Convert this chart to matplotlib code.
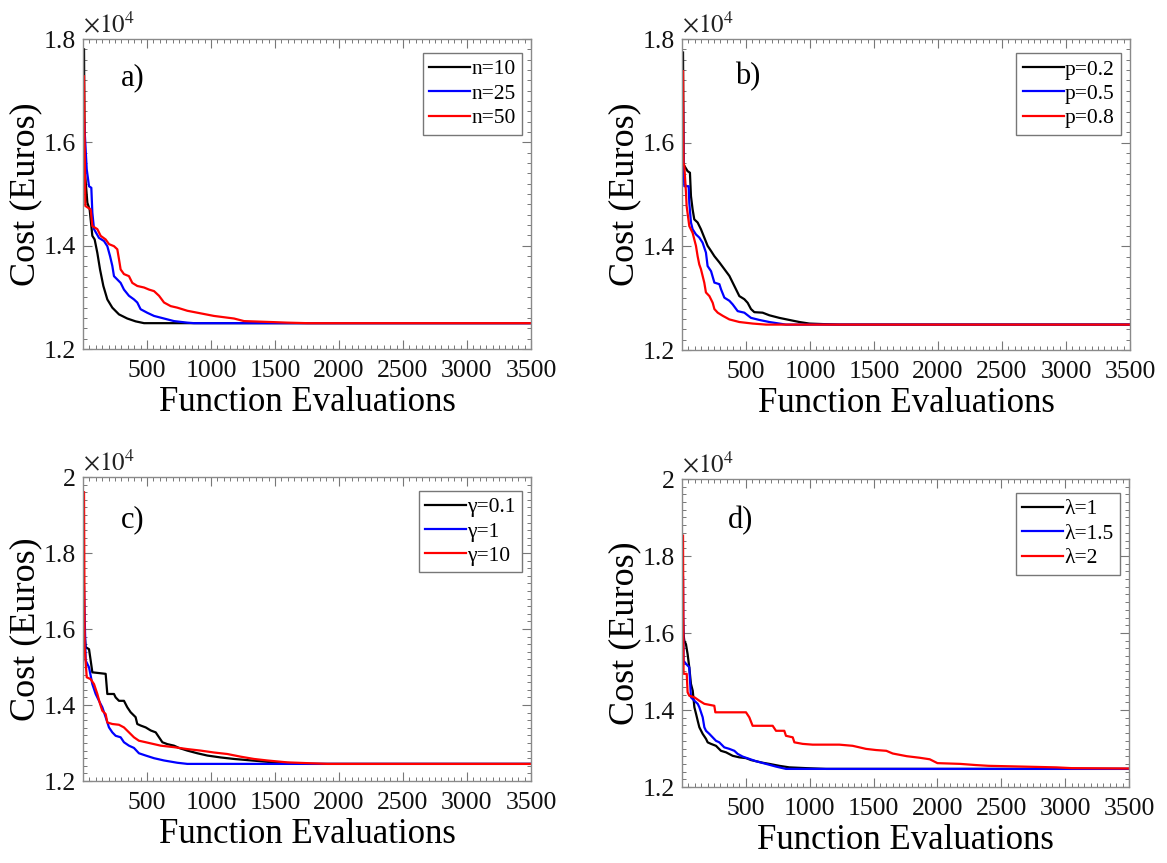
import matplotlib
matplotlib.use("Agg")
import matplotlib.pyplot as plt
from matplotlib.ticker import MultipleLocator, FuncFormatter

plt.rcParams['font.family'] = ['Liberation Serif', 'DejaVu Serif']
plt.rcParams['mathtext.fontset'] = 'stix'

# ---------------- data (Function evaluations, Cost in Euros) ----------------
# Panel a) population size n
a_x_n10 = [8, 13, 34, 52, 73, 91, 112, 133, 159, 190, 229, 281, 346, 411, 477, 3500]
a_y_n10 = [17800, 15480, 14830, 14700, 14190, 14120, 13860, 13540, 13220, 12960, 12800, 12670, 12590, 12535, 12500, 12500]
a_x_n25 = [8, 29, 47, 65, 73, 86, 125, 164, 190, 211, 229, 242, 294, 320, 359, 398, 424, 450, 503, 555, 633, 711, 815, 867, 3500]
a_y_n25 = [16450, 15480, 15150, 15120, 14640, 14320, 14150, 14090, 13990, 13800, 13610, 13410, 13280, 13150, 13030, 12960, 12900, 12770, 12700, 12640, 12590, 12540, 12510, 12500, 12500]
a_x_n50 = [8, 18, 60, 73, 112, 138, 177, 203, 242, 268, 281, 294, 320, 359, 385, 424, 477, 516, 555, 594, 633, 685, 737, 815, 919, 1023, 1180, 1258, 1492, 1596, 1753, 3500]
a_y_n50 = [17280, 14770, 14700, 14380, 14320, 14190, 14120, 14030, 13990, 13930, 13740, 13540, 13450, 13410, 13280, 13220, 13190, 13150, 13120, 13030, 12900, 12830, 12800, 12740, 12690, 12640, 12590, 12540, 12520, 12510, 12500, 12500]
a_labels = ['n=10', 'n=25', 'n=50']

# Panel b) switch probability p
b_x_p02 = [8, 12, 44, 62, 70, 83, 96, 122, 148, 174, 200, 227, 253, 292, 331, 370, 396, 422, 448, 487, 513, 539, 565, 630, 682, 760, 838, 917, 995, 1099, 1229, 3500]
b_y_p02 = [17740, 15580, 15450, 15420, 14970, 14710, 14520, 14460, 14330, 14170, 14010, 13910, 13810, 13690, 13560, 13430, 13300, 13170, 13040, 12980, 12910, 12790, 12730, 12720, 12670, 12620, 12580, 12540, 12510, 12500, 12490, 12490]
b_x_p05 = [8, 12, 18, 52, 57, 70, 83, 109, 135, 161, 187, 200, 227, 253, 292, 305, 331, 370, 396, 435, 487, 539, 604, 682, 760, 812, 3500]
b_y_p05 = [16770, 15550, 15160, 15160, 14840, 14460, 14330, 14230, 14170, 14070, 13880, 13620, 13520, 13300, 13270, 13170, 13010, 12950, 12880, 12750, 12720, 12620, 12580, 12540, 12510, 12490, 12490]
b_x_p08 = [8, 12, 18, 31, 36, 57, 83, 109, 122, 135, 148, 174, 187, 214, 240, 253, 279, 318, 370, 448, 552, 656, 3500]
b_y_p08 = [17380, 15610, 15550, 15040, 14780, 14390, 14260, 14010, 13810, 13650, 13560, 13300, 13110, 13040, 12910, 12790, 12720, 12660, 12590, 12540, 12510, 12490, 12490]
b_labels = ['p=0.2', 'p=0.5', 'p=0.8']

# Panel c) gamma
c_x_g01 = [8, 21, 47, 60, 73, 177, 190, 242, 255, 281, 320, 346, 372, 411, 424, 450, 490, 529, 568, 594, 620, 659, 711, 750, 815, 893, 971, 1075, 1180, 1284, 1388, 1492, 1622, 1753, 3500]
c_y_g01 = [16040, 15520, 15470, 15170, 14860, 14820, 14290, 14290, 14200, 14110, 14110, 13940, 13810, 13680, 13500, 13460, 13410, 13330, 13280, 13150, 13020, 12970, 12930, 12870, 12800, 12730, 12670, 12620, 12580, 12550, 12520, 12490, 12470, 12450, 12450]
c_x_g1 = [8, 21, 47, 73, 99, 125, 151, 177, 203, 229, 255, 294, 320, 359, 398, 437, 490, 555, 633, 737, 815, 3500]
c_y_g1 = [17100, 15170, 14990, 14550, 14290, 14110, 13940, 13680, 13410, 13280, 13190, 13150, 13020, 12930, 12870, 12730, 12670, 12600, 12540, 12480, 12450, 12450]
c_x_g10 = [8, 13, 29, 60, 86, 112, 133, 151, 177, 190, 229, 281, 320, 359, 398, 437, 490, 555, 607, 711, 815, 919, 1023, 1128, 1232, 1336, 1440, 1596, 1753, 1909, 3500]
c_y_g10 = [19600, 15520, 14730, 14680, 14550, 14290, 14030, 13850, 13760, 13540, 13500, 13480, 13410, 13280, 13150, 13060, 13020, 12970, 12930, 12890, 12840, 12800, 12750, 12710, 12640, 12580, 12540, 12490, 12470, 12450, 12450]
c_labels = ['γ=0.1', 'γ=1', 'γ=10']

# Panel d) lambda
d_x_l1 = [8, 12, 18, 31, 44, 57, 70, 84, 97, 110, 123, 136, 162, 188, 201, 227, 266, 305, 345, 397, 449, 501, 540, 579, 632, 684, 762, 840, 971, 1128, 3500]
d_y_l1 = [16320, 15970, 15800, 15710, 15450, 15110, 14680, 14500, 14070, 13900, 13720, 13550, 13380, 13250, 13160, 13120, 13070, 12940, 12900, 12810, 12770, 12750, 12700, 12670, 12630, 12600, 12550, 12510, 12490, 12470, 12470]
d_x_l15 = [8, 12, 31, 57, 70, 97, 123, 136, 162, 175, 188, 214, 240, 266, 292, 331, 371, 410, 436, 475, 527, 579, 658, 736, 814, 3500]
d_y_l15 = [17450, 15280, 15200, 15110, 14330, 14240, 14160, 14070, 13810, 13550, 13460, 13380, 13290, 13200, 13160, 13030, 12990, 12940, 12860, 12790, 12730, 12670, 12600, 12530, 12470, 12470]
d_x_l2 = [8, 12, 37, 44, 57, 97, 136, 175, 253, 261, 501, 527, 553, 710, 736, 801, 814, 867, 880, 945, 1023, 1232, 1336, 1389, 1441, 1519, 1600, 1650, 1760, 1860, 1940, 2000, 2180, 2300, 2400, 2670, 2930, 3050, 3500]
d_y_l2 = [18530, 14940, 14940, 14460, 14370, 14330, 14240, 14160, 14110, 13940, 13940, 13810, 13590, 13590, 13460, 13460, 13330, 13290, 13160, 13120, 13100, 13100, 13070, 13030, 12990, 12960, 12940, 12870, 12800, 12760, 12720, 12620, 12600, 12570, 12550, 12530, 12510, 12490, 12480]
d_labels = ['λ=1', 'λ=1.5', 'λ=2']

x_ticks = [500, 1000, 1500, 2000, 2500, 3000, 3500]
panel_letters = ['a)', 'b)', 'c)', 'd)']
series_colors = ['black', 'blue', 'red']

# ---------------- figure ----------------
W, H = 1167, 863
fig = plt.figure(figsize=(W / 100, H / 100), dpi=100)


def rect(left, top, right, bottom):
    return [left / W, 1 - bottom / H, (right - left) / W, (bottom - top) / H]


panels = [
    dict(rect=rect(83, 39, 531, 349), ylim=(12000, 18000), yt=[12000, 14000, 16000, 18000],
         series=[(a_x_n10, a_y_n10), (a_x_n25, a_y_n25), (a_x_n50, a_y_n50)], labels=a_labels,
         letter_pos=(0.11, 0.875)),
    dict(rect=rect(682, 39, 1130, 350), ylim=(12000, 18000), yt=[12000, 14000, 16000, 18000],
         series=[(b_x_p02, b_y_p02), (b_x_p05, b_y_p05), (b_x_p08, b_y_p08)], labels=b_labels,
         letter_pos=(0.147, 0.88)),
    dict(rect=rect(83, 477, 531, 781), ylim=(12000, 20000), yt=[12000, 14000, 16000, 18000, 20000],
         series=[(c_x_g01, c_y_g01), (c_x_g1, c_y_g1), (c_x_g10, c_y_g10)], labels=c_labels,
         letter_pos=(0.11, 0.86)),
    dict(rect=rect(682, 479, 1129, 787), ylim=(12000, 20000), yt=[12000, 14000, 16000, 18000, 20000],
         series=[(d_x_l1, d_y_l1), (d_x_l15, d_y_l15), (d_x_l2, d_y_l2)], labels=d_labels,
         letter_pos=(0.13, 0.865)),
]

spine_col = '#8a8a8a'
fmt = FuncFormatter(lambda v, p: '%g' % round(v / 1e4, 2))

for i, p in enumerate(panels):
    ax = fig.add_axes(p['rect'])
    for (xs, ys), col, lab in zip(p['series'], series_colors, p['labels']):
        ax.plot(xs, ys, color=col, lw=1.6, label=lab)
    ax.set_xlim(0, 3500)
    ax.set_ylim(*p['ylim'])
    ax.set_xticks(x_ticks)
    ax.set_yticks(p['yt'])
    ax.xaxis.set_minor_locator(MultipleLocator(50))
    ax.yaxis.set_minor_locator(MultipleLocator(200))
    ax.yaxis.set_major_formatter(fmt)
    ax.tick_params(which='both', direction='in', top=True, right=True, color='#777777',
                   labelsize=18.5, labelcolor='#111111')
    ax.tick_params(which='major', length=6.5, width=0.8)
    ax.tick_params(which='minor', length=3, width=0.7)
    ax.tick_params(axis='x', pad=8)
    ax.tick_params(axis='y', pad=5)
    for s in ax.spines.values():
        s.set_color(spine_col)
        s.set_linewidth(1.0)
    ax.set_xlabel('Function Evaluations', fontsize=25, labelpad=3)
    ax.set_ylabel('Cost (Euros)', fontsize=26, labelpad=1)
    ax.text(0.0, 1.006, r'$\times10^{4}$', transform=ax.transAxes, fontsize=18,
            ha='left', va='bottom', color='#222222')
    ax.text(p['letter_pos'][0], p['letter_pos'][1], panel_letters[i], transform=ax.transAxes,
            fontsize=22, ha='center', va='center')
    leg = ax.legend(loc='upper right', bbox_to_anchor=(0.98, 0.955), borderaxespad=0,
                    fontsize=15.5, handlelength=1.9, handletextpad=0.05, labelspacing=0.2,
                    borderpad=0.3, fancybox=False, framealpha=1)
    leg.get_frame().set_edgecolor('#777777')
    leg.get_frame().set_linewidth(1.0)

fig.savefig('out.png', dpi=100)
